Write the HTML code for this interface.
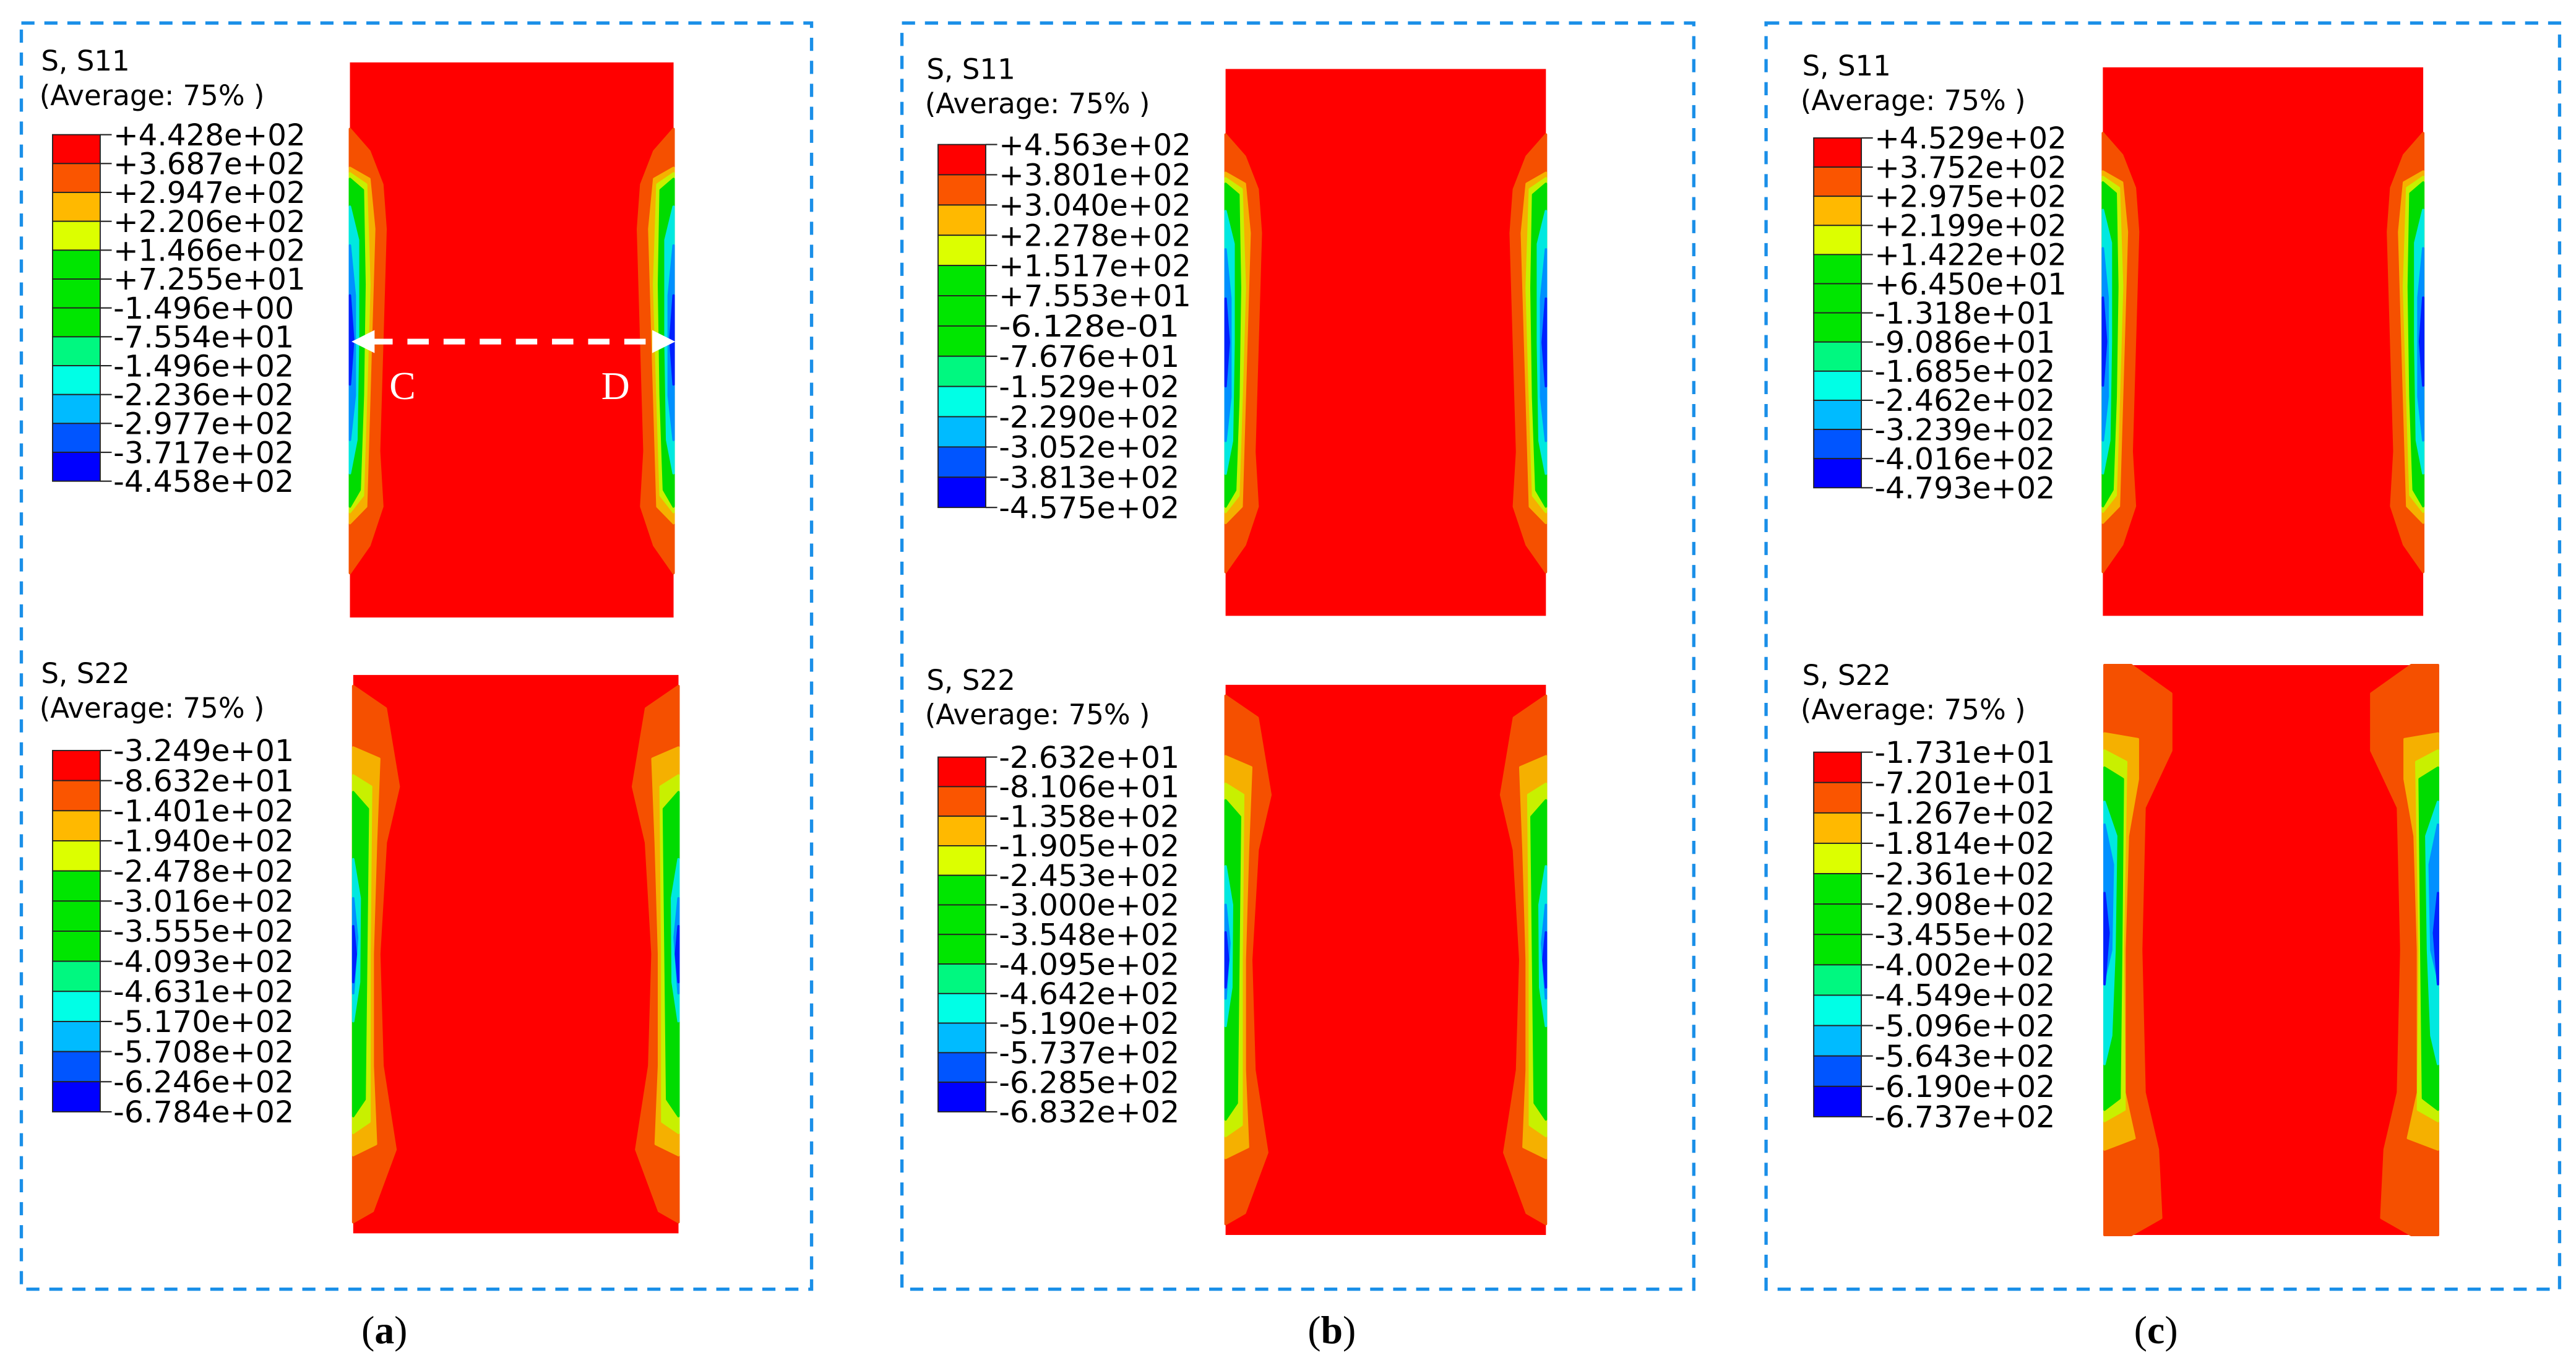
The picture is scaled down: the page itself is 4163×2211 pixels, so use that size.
<!DOCTYPE html>
<html><head><meta charset="utf-8"><style>
html,body{margin:0;padding:0;background:#fff;}
svg{display:block;}
text{font-family:"DejaVu Sans","Liberation Sans",sans-serif;fill:#000;}
</style></head>
<body>
<svg id="fig" width="4163" height="2211" viewBox="0 0 1568 833" preserveAspectRatio="none" xmlns="http://www.w3.org/2000/svg"></svg>
<script>
// ---- data ----
const panelLetters = ["a","b","c"];
const s11Labels = [
 ["+4.428e+02","+3.687e+02","+2.947e+02","+2.206e+02","+1.466e+02","+7.255e+01","-1.496e+00","-7.554e+01","-1.496e+02","-2.236e+02","-2.977e+02","-3.717e+02","-4.458e+02"],
 ["+4.563e+02","+3.801e+02","+3.040e+02","+2.278e+02","+1.517e+02","+7.553e+01","-6.128e-01","-7.676e+01","-1.529e+02","-2.290e+02","-3.052e+02","-3.813e+02","-4.575e+02"],
 ["+4.529e+02","+3.752e+02","+2.975e+02","+2.199e+02","+1.422e+02","+6.450e+01","-1.318e+01","-9.086e+01","-1.685e+02","-2.462e+02","-3.239e+02","-4.016e+02","-4.793e+02"]];
const s22Labels = [
 ["-3.249e+01","-8.632e+01","-1.401e+02","-1.940e+02","-2.478e+02","-3.016e+02","-3.555e+02","-4.093e+02","-4.631e+02","-5.170e+02","-5.708e+02","-6.246e+02","-6.784e+02"],
 ["-2.632e+01","-8.106e+01","-1.358e+02","-1.905e+02","-2.453e+02","-3.000e+02","-3.548e+02","-4.095e+02","-4.642e+02","-5.190e+02","-5.737e+02","-6.285e+02","-6.832e+02"],
 ["-1.731e+01","-7.201e+01","-1.267e+02","-1.814e+02","-2.361e+02","-2.908e+02","-3.455e+02","-4.002e+02","-4.549e+02","-5.096e+02","-5.643e+02","-6.190e+02","-6.737e+02"]];
const bandColors = ["#ff0000","#fa5500","#ffb900","#dcff00","#00e600","#00e600","#00e600","#00f880","#00ffe6","#00bbff","#0055ff","#0000ff"];
</script>
<script>
const NS="http://www.w3.org/2000/svg";
const svg=document.getElementById('fig');
function mk(tag,attrs,parent){const e=document.createElementNS(NS,tag);for(const k in attrs)e.setAttribute(k,attrs[k]);(parent||svg).appendChild(e);return e;}

const boxes=[{x:13,y:14,w:481,h:771},{x:549,y:14,w:482,h:771},{x:1075,y:14,w:483,h:771}];
const leg=[
 {x:32,t1:37,cb1:82,cbh1:211,t2:410,cb2:457,cbh2:220},
 {x:571,t1:42,cb1:88,cbh1:221,t2:414,cb2:461,cbh2:216},
 {x:1104,t1:40,cb1:84,cbh1:213,t2:411,cb2:458,cbh2:222}];
const rects=[
 [{x:213,y:38,w:197,h:338},{x:215,y:411,w:198,h:340}],
 [{x:746,y:42,w:195,h:333},{x:746,y:417,w:195,h:335}],
 [{x:1280,y:41,w:195,h:334},{x:1281,y:405,w:203,h:347}]];
const capX=[234,810,1313];

const L=["#f55000","#f5b000","#c8f000","#00dc00","#00e8e0","#0090ff","#0020ff"];
const s11Prof=[
 [[0.12,0],[0.16,0.06],[0.22,0.1],[0.3,0.11],[0.5,0.1],[0.7,0.09],[0.8,0.1],[0.87,0.06],[0.92,0]],
 [[0.19,0],[0.21,0.06],[0.3,0.075],[0.5,0.065],[0.7,0.055],[0.8,0.05],[0.83,0]],
 [[0.2,0],[0.22,0.05],[0.4,0.06],[0.6,0.05],[0.78,0.04],[0.81,0]],
 [[0.21,0],[0.23,0.04],[0.4,0.045],[0.6,0.04],[0.77,0.03],[0.8,0]],
 [[0.26,0],[0.32,0.025],[0.5,0.025],[0.68,0.02],[0.74,0]],
 [[0.33,0],[0.42,0.015],[0.6,0.015],[0.68,0]],
 [[0.42,0],[0.5,0.01],[0.58,0]]];
const s22Prof=[
 [[0.02,0],[0.06,0.1],[0.2,0.14],[0.3,0.1],[0.5,0.08],[0.7,0.09],[0.85,0.13],[0.96,0.06],[0.98,0]],
 [[0.13,0],[0.15,0.08],[0.3,0.07],[0.5,0.06],[0.7,0.06],[0.84,0.07],[0.86,0]],
 [[0.18,0],[0.2,0.055],[0.5,0.05],[0.8,0.05],[0.82,0]],
 [[0.21,0],[0.24,0.045],[0.5,0.04],[0.76,0.035],[0.79,0]],
 [[0.33,0],[0.4,0.02],[0.55,0.018],[0.62,0]],
 [[0.4,0],[0.47,0.012],[0.57,0]],
 [[0.45,0],[0.5,0.008],[0.55,0]]];
const s22ProfC=[
 [[0,0.08],[0.05,0.2],[0.15,0.2],[0.25,0.12],[0.5,0.11],[0.75,0.12],[0.85,0.16],[0.97,0.17],[1,0.08]],
 [[0.12,0],[0.13,0.1],[0.2,0.1],[0.3,0.07],[0.5,0.06],[0.75,0.06],[0.83,0.09],[0.85,0]],
 [[0.15,0],[0.17,0.065],[0.5,0.055],[0.78,0.06],[0.8,0]],
 [[0.18,0],[0.2,0.055],[0.5,0.05],[0.76,0.045],[0.78,0]],
 [[0.24,0],[0.3,0.035],[0.5,0.03],[0.65,0.02],[0.7,0]],
 [[0.28,0],[0.35,0.025],[0.5,0.02],[0.55,0]],
 [[0.4,0],[0.47,0.012],[0.56,0]]];

function contour(r,prof,name){
  const g=mk('g',{});
  
  
  mk('rect',{x:r.x,y:r.y,width:r.w,height:r.h,fill:'#ff0000'},g);
  prof.forEach((p,i)=>{
    let lp=[],rp=[];
    p.forEach(([yf,wf])=>{const y=r.y+yf*r.h;lp.push((r.x+wf*r.w)+','+y);rp.push((r.x+r.w-wf*r.w)+','+y);});
    const y0=r.y+p[0][0]*r.h,y1=r.y+p[p.length-1][0]*r.h;
    mk('polygon',{points:r.x+','+y0+' '+lp.join(' ')+' '+r.x+','+y1,fill:L[i],'stroke':L[i],'stroke-width':1.5,'stroke-linejoin':'round'},g);
    mk('polygon',{points:(r.x+r.w)+','+y0+' '+rp.join(' ')+' '+(r.x+r.w)+','+y1,fill:L[i],'stroke':L[i],'stroke-width':1.5,'stroke-linejoin':'round'},g);
  });
  return g;
}

function legend(x,ty,cby,cbh,title,labels,name){
  const g=mk('g',{});
  
  
  const t=mk('text',{x:x-7,y:ty+6,'font-size':17},g);t.textContent=title;
  const a=mk('text',{x:x-8,y:ty+27,'font-size':17,textLength:137,lengthAdjust:'spacingAndGlyphs'},g);a.textContent='(Average: 75% )';
  const n=bandColors.length, bh=cbh/n;
  bandColors.forEach((c,i)=>{mk('rect',{x:x,y:cby+i*bh,width:29,height:bh,fill:c,stroke:'#222','stroke-width':0.7},g);});
  labels.forEach((lab,i)=>{
    const y=cby+i*bh;
    mk('line',{x1:x+29,x2:x+36,y1:y,y2:y,stroke:'#222','stroke-width':0.8},g);
    const tx=mk('text',{x:x+37,y:y+6.5,'font-size':18,textLength:lab[0]==='+'?117:110,lengthAdjust:'spacingAndGlyphs'},g);
    tx.textContent=lab;
  });
  return g;
}

boxes.forEach((b,i)=>{
  const box=mk('rect',{x:b.x,y:b.y,width:b.w,height:b.h,fill:'none',stroke:'#1a8fe8','stroke-width':2,'stroke-dasharray':'8,6'});
  
  
  const lg=leg[i];
  legend(lg.x,lg.t1,lg.cb1,lg.cbh1,'S, S11',s11Labels[i],'s11-legend-'+panelLetters[i]);
  legend(lg.x,lg.t2,lg.cb2,lg.cbh2,'S, S22',s22Labels[i],'s22-legend-'+panelLetters[i]);
  contour(rects[i][0],s11Prof,'s11-contour-'+panelLetters[i]);
  contour(rects[i][1],i===2?s22ProfC:s22Prof,'s22-contour-'+panelLetters[i]);
  const cap=mk('text',{x:capX[i]-14,y:818,'font-size':24,style:'font-family:"Liberation Serif",serif'});
  
  
  cap.innerHTML='(<tspan font-weight="bold">'+panelLetters[i]+'</tspan>)';
});

const ag=mk('g',{});


mk('line',{x1:226,x2:398,y1:208,y2:208,stroke:'#fff','stroke-width':3.5,'stroke-dasharray':'13,9'},ag);
mk('polygon',{points:'214,208 228,201 228,215',fill:'#fff'},ag);
mk('polygon',{points:'411,208 397,201 397,215',fill:'#fff'},ag);
const c=mk('text',{x:237,y:243,'font-size':24,style:'font-family:"Liberation Serif",serif;fill:#fff'},ag);c.textContent='C';
const d=mk('text',{x:366,y:243,'font-size':24,style:'font-family:"Liberation Serif",serif;fill:#fff'},ag);d.textContent='D';
</script>
</body></html>
